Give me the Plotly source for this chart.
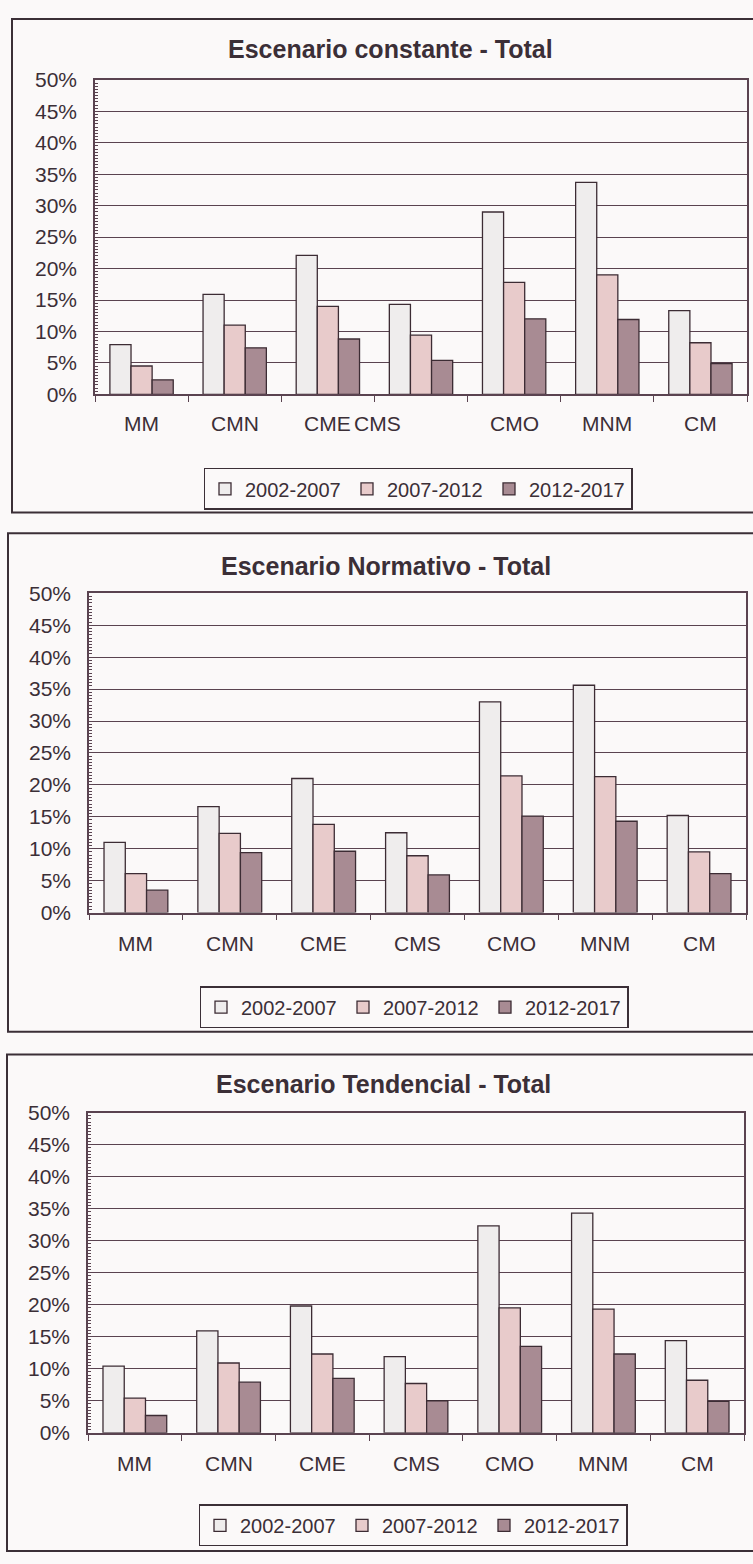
import plotly.graph_objects as go

# Regions and projection periods
categories = ["MM", "CMN", "CME", "CMS", "CMO", "MNM", "CM"]
periods = ["2002-2007", "2007-2012", "2012-2017"]
y_ticks = [0, 5, 10, 15, 20, 25, 30, 35, 40, 45, 50]
y_tick_labels = ["0%", "5%", "10%", "15%", "20%", "25%", "30%", "35%", "40%", "45%", "50%"]

# Escenario constante (growth, %)
constante_2002_2007 = [7.9, 15.9, 22.1, 14.3, 29.0, 33.7, 13.3]
constante_2007_2012 = [4.5, 11.0, 14.0, 9.4, 17.8, 19.0, 8.2]
constante_2012_2017 = [2.3, 7.4, 8.8, 5.4, 12.0, 11.9, 4.9]

# Escenario normativo (growth, %)
normativo_2002_2007 = [11.0, 16.6, 21.0, 12.5, 33.0, 35.6, 15.2]
normativo_2007_2012 = [6.1, 12.4, 13.8, 8.9, 21.4, 21.3, 9.5]
normativo_2012_2017 = [3.5, 9.4, 9.6, 5.9, 15.1, 14.3, 6.1]

# Escenario tendencial (growth, %)
tendencial_2002_2007 = [10.4, 15.9, 19.8, 11.9, 32.3, 34.3, 14.4]
tendencial_2007_2012 = [5.4, 10.9, 12.3, 7.7, 19.5, 19.3, 8.2]
tendencial_2012_2017 = [2.7, 7.9, 8.5, 5.0, 13.5, 12.3, 4.9]

titles = ["Escenario constante - Total",
          "Escenario Normativo - Total",
          "Escenario Tendencial - Total"]

W, H = 753, 1564
FONT = "Arial, Liberation Sans, sans-serif"
INK = "#3b2f37"
GRID = "#5a4350"
BAR_LINE = "#3c2c34"
BG = "#fbf9f9"
fills = ["#efeded", "#e8cbcb", "#a88b93"]


def px(x):
    return x / W


def py(y):
    return 1 - y / H


# pixel layout of each panel: plot box, title, x labels, legend, frame
panels = [
    dict(data=[constante_2002_2007, constante_2007_2012, constante_2012_2017],
         left=95, right=747, top=69, bottom=388, title_x=390, title_y=38,
         label_y=418, leg_x=418, leg_y=484, frame=(12, 7, 800, 508),
         label_shift={"CMS": -44}),
    dict(data=[normativo_2002_2007, normativo_2007_2012, normativo_2012_2017],
         left=89, right=746, top=590, bottom=914, title_x=386, title_y=562,
         label_y=945, leg_x=414, leg_y=1010, frame=(8, 529, 800, 1035),
         label_shift={}),
    dict(data=[tendencial_2002_2007, tendencial_2007_2012, tendencial_2012_2017],
         left=88, right=744, top=1117, bottom=1442, title_x=383, title_y=1088,
         label_y=1473, leg_x=413, leg_y=1536, frame=(7, 1058, 800, 1562),
         label_shift={}),
]

fig = go.Figure()
annotations = []
shapes = []
layout_axes = {}

for i, p in enumerate(panels):
    n = i + 1
    xa = "x" if n == 1 else f"x{n}"
    ya = "y" if n == 1 else f"y{n}"
    leg = "legend" if n == 1 else f"legend{n}"

    for k, period in enumerate(periods):
        fig.add_trace(go.Bar(
            x=categories, y=p["data"][k], name=period,
            xaxis=xa, yaxis=ya, legend=leg,
            marker=dict(color=fills[k], line=dict(color=BAR_LINE, width=1.3)),
        ))

    xkey = "xaxis" if n == 1 else f"xaxis{n}"
    ykey = "yaxis" if n == 1 else f"yaxis{n}"
    layout_axes[xkey] = dict(
        domain=[px(p["left"]), px(p["right"])], anchor=ya,
        type="category", showticklabels=False, showgrid=False,
        showline=True, linecolor=GRID, linewidth=1.5, mirror=True,
        ticks="outside", tickson="boundaries", ticklen=6,
        tickcolor=GRID, tickwidth=1.3, zeroline=False,
    )
    layout_axes[ykey] = dict(
        domain=[py(p["bottom"]), py(p["top"])], anchor=xa,
        range=[0, 50], tickmode="array", tickvals=y_ticks, ticktext=y_tick_labels,
        showgrid=True, gridcolor=GRID, gridwidth=1.3,
        showline=True, linecolor=GRID, linewidth=1.5, mirror=True,
        ticks="inside", ticklen=5, tickcolor=GRID, tickwidth=1,
        minor=dict(dtick=0.5, ticks="inside", ticklen=3,
                   tickcolor=GRID, tickwidth=1, showgrid=False),
        tickfont=dict(family=FONT, size=21, color=INK),
        ticklabelstandoff=12, zeroline=False,
    )

    layout_axes[leg] = dict(
        orientation="h", x=px(p["leg_x"]), y=py(p["leg_y"]),
        xanchor="center", yanchor="middle",
        bgcolor=BG, bordercolor=INK, borderwidth=1.5,
        font=dict(family=FONT, size=20, color=INK),
        itemwidth=30, entrywidth=97, entrywidthmode="pixels",
        traceorder="normal",
    )

    # chart title
    annotations.append(dict(
        text=f"<b>{titles[i]}</b>", x=px(p["title_x"]), y=py(p["title_y"]),
        xref="paper", yref="paper", xanchor="center", yanchor="middle",
        showarrow=False, font=dict(family=FONT, size=25, color=INK),
    ))

    # category labels under the axis
    for c in categories:
        annotations.append(dict(
            text=c, x=c, y=py(p["label_y"]), xref=xa, yref="paper",
            xanchor="center", yanchor="middle", showarrow=False,
            xshift=p["label_shift"].get(c, 0),
            font=dict(family=FONT, size=21, color=INK),
        ))

    # outer frame of the chart
    fx0, fy0, fx1, fy1 = p["frame"]
    shapes.append(dict(
        type="rect", xref="paper", yref="paper",
        x0=px(fx0), x1=px(fx1), y0=py(fy1), y1=py(fy0),
        line=dict(color=INK, width=2), fillcolor="rgba(0,0,0,0)", layer="below",
    ))

fig.update_layout(
    width=W, height=H, margin=dict(l=0, r=0, t=0, b=0),
    paper_bgcolor=BG, plot_bgcolor=BG,
    barmode="group", bargap=0.32, bargroupgap=0,
    annotations=annotations, shapes=shapes,
    font=dict(family=FONT, color=INK),
    **layout_axes,
)

fig.write_html("out.html")
